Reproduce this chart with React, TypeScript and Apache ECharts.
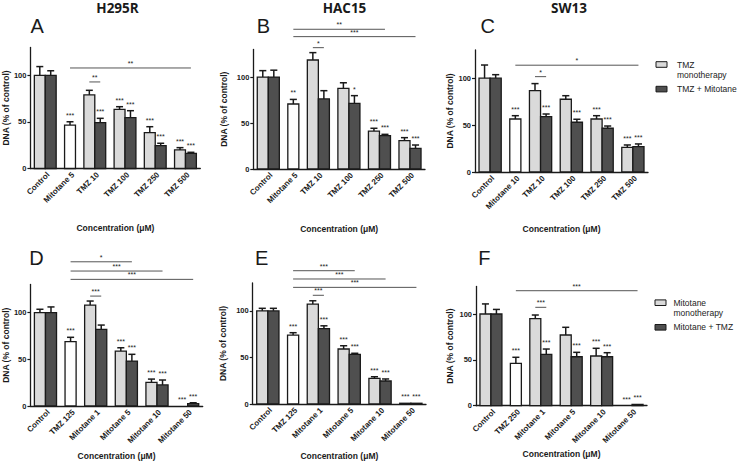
import { useEffect, useRef } from 'react';
import * as echarts from 'echarts';

// ---------- data ----------
const Y_TICKS = [0, 50, 100];
const Y_NAME = 'DNA (% of control)';
const X_NAME = 'Concentration (μM)';

// A — H295R
const catsA = ['Control', 'Mitotane 5', 'TMZ 10', 'TMZ 100', 'TMZ 250', 'TMZ 500'];
const monoA = [100, 46.7, 79, 63.6, 38.5, 20];
const monoErrA = [9.5, 3.5, 5, 2.8, 6.4, 2.4];
const monoStarsA = ['', '***', '', '***', '***', '***'];
const comboA = [100, null, 49.2, 54.6, 24.5, 16.3];
const comboErrA = [5, null, 4.7, 7.5, 2.6, 1.1];
const comboStarsA = ['', '', '***', '***', '***', '***'];
const bracketsA = [
  { from: [1, 0], to: [5, 1], level: 108, label: '**' },
  { from: [2, 0], to: [2, 1], level: 93, label: '**' },
];

// B — HAC15
const catsB = ['Control', 'Mitotane 5', 'TMZ 10', 'TMZ 100', 'TMZ 250', 'TMZ 500'];
const monoB = [100, 70.7, 118.6, 87.8, 41.3, 30.8];
const monoErrB = [7, 5, 8, 6, 3, 3.3];
const monoStarsB = ['', '**', '', '', '***', '***'];
const comboB = [100, null, 76.2, 71.5, 36.2, 22.5];
const comboErrB = [7.5, null, 9, 8.3, 1.5, 3.6];
const comboStarsB = ['', '', '', '*', '***', '***'];
const bracketsB = [
  { from: [1, 0], to: [4, 1], level: 152, label: '**' },
  { from: [1, 0], to: [5, 1], level: 144, label: '***' },
  { from: [2, 0], to: [2, 1], level: 132, label: '*' },
];

// C — SW13
const catsC = ['Control', 'Mitotane 10', 'TMZ 10', 'TMZ 100', 'TMZ 250', 'TMZ 500'];
const monoC = [100, 56.5, 86.7, 77.5, 56.5, 26.3];
const monoErrC = [14, 3.5, 7.5, 3.8, 3.5, 2.5];
const monoStarsC = ['', '***', '', '', '***', '***'];
const comboC = [100, null, 59, 53, 46.6, 27];
const comboErrC = [3.7, null, 2.8, 3.2, 2.4, 2.9];
const comboStarsC = ['', '', '***', '***', '***', '***'];
const bracketsC = [
  { from: [1, 0], to: [5, 1], level: 113.8, label: '*' },
  { from: [2, 0], to: [2, 1], level: 101.6, label: '*' },
];

// D — H295R
const catsD = ['Control', 'TMZ 125', 'Mitotane 1', 'Mitotane 5', 'Mitotane 10', 'Mitotane 50'];
const monoD = [100, 68.8, 108, 58.8, 25.3, 0];
const monoErrD = [3.5, 4.7, 4.3, 3.5, 3.5, 0];
const monoStarsD = ['', '***', '', '***', '***', '***'];
const comboD = [100, null, 82, 48.1, 22.5, 2.5];
const comboErrD = [6, null, 4.6, 7.2, 5.3, 1];
const comboStarsD = ['', '', '', '***', '***', '***'];
const bracketsD = [
  { from: [1, 0], to: [3, 1], level: 154.3, label: '*' },
  { from: [1, 0], to: [4, 1], level: 144.4, label: '***' },
  { from: [1, 0], to: [5, 1], level: 135.5, label: '***' },
  { from: [2, 0], to: [2, 1], level: 117.6, label: '***' },
];

// E — HAC15
const catsE = ['Control', 'TMZ 125', 'Mitotane 1', 'Mitotane 5', 'Mitotane 10', 'Mitotane 50'];
const monoE = [100, 74.1, 107.4, 59.1, 27.6, 0.8];
const monoErrE = [2.8, 2.5, 3.5, 3.5, 1.7, 0];
const monoStarsE = ['', '***', '', '***', '***', '***'];
const comboE = [100, null, 81, 53.4, 24.7, 0.8];
const comboErrE = [2.8, null, 3, 1.1, 2.2, 0];
const comboStarsE = ['', '', '***', '***', '***', '***'];
const bracketsE = [
  { from: [1, 0], to: [3, 1], level: 143.2, label: '***' },
  { from: [1, 0], to: [4, 1], level: 134.3, label: '***' },
  { from: [1, 0], to: [5, 1], level: 125.3, label: '***' },
  { from: [2, 0], to: [2, 1], level: 116.8, label: '***' },
];

// F — SW13
const catsF = ['Control', 'TMZ 250', 'Mitotane 1', 'Mitotane 5', 'Mitotane 10', 'Mitotane 50'];
const monoF = [100, 46.2, 94.9, 77.1, 54.2, 0];
const monoErrF = [11, 6.6, 4, 8.4, 8.4, 0];
const monoStarsF = ['', '***', '', '', '***', '***'];
const comboF = [100, null, 56, 53.4, 53.4, 1.5];
const comboErrF = [5, null, 5.8, 4.8, 4.4, 0];
const comboStarsF = ['', '', '***', '***', '***', '***'];
const bracketsF = [
  { from: [1, 0], to: [5, 1], level: 125.4, label: '***' },
  { from: [2, 0], to: [2, 1], level: 107.3, label: '***' },
];

// ---------- styling / layout ----------
const FONT = '"Liberation Sans", Arial, sans-serif';
const LIGHT = '#dadada';
const DARK = '#4f4f4f';
const WHITE = '#ffffff';
const INK = '#1a1a1a';
const PAD = 0.36;
const GAP = 0.77;
const CAP = 0.64;

type Panel = {
  title: string; letter: string;
  cats: string[]; mono: number[]; monoErr: number[]; monoStars: string[];
  combo: (number | null)[]; comboErr: (number | null)[]; comboStars: string[];
  brackets: { from: number[]; to: number[]; level: number; label: string }[];
  left: number; top: number; width: number; height: number;
  yGap: number; xGap: number; titleX: number; letterX: number; letterY: number;
};

const panels: Panel[] = [
  { title: 'H295R', letter: 'A', cats: catsA, mono: monoA, monoErr: monoErrA, monoStars: monoStarsA, combo: comboA, comboErr: comboErrA, comboStars: comboStarsA, brackets: bracketsA,
    left: 28.3, top: 47.5, width: 172, height: 121, yGap: 19, xGap: 55, titleX: 117.5, letterX: 30.5, letterY: 26.3 },
  { title: 'HAC15', letter: 'B', cats: catsB, mono: monoB, monoErr: monoErrB, monoStars: monoStarsB, combo: comboB, comboErr: comboErrB, comboStars: comboStarsB, brackets: bracketsB,
    left: 253.3, top: 49.5, width: 171.7, height: 119.5, yGap: 25, xGap: 55, titleX: 344.5, letterX: 256.7, letterY: 26.3 },
  { title: 'SW13', letter: 'C', cats: catsC, mono: monoC, monoErr: monoErrC, monoStars: monoStarsC, combo: comboC, comboErr: comboErrC, comboStars: comboStarsC, brackets: bracketsC,
    left: 475, top: 50, width: 173, height: 122, yGap: 21, xGap: 52, titleX: 569, letterX: 480.5, letterY: 26.3 },
  { title: '', letter: 'D', cats: catsD, mono: monoD, monoErr: monoErrD, monoStars: monoStarsD, combo: comboD, comboErr: comboErrD, comboStars: comboStarsD, brackets: bracketsD,
    left: 27.7, top: 284.5, width: 175, height: 121.5, yGap: 19, xGap: 45, titleX: 0, letterX: 29.3, letterY: 257.8 },
  { title: '', letter: 'E', cats: catsE, mono: monoE, monoErr: monoErrE, monoStars: monoStarsE, combo: comboE, comboErr: comboErrE, comboStars: comboStarsE, brackets: bracketsE,
    left: 252.7, top: 283, width: 173.3, height: 121, yGap: 25, xGap: 47, titleX: 0, letterX: 255, letterY: 257.8 },
  { title: '', letter: 'F', cats: catsF, mono: monoF, monoErr: monoErrF, monoStars: monoStarsF, combo: comboF, comboErr: comboErrF, comboStars: comboStarsF, brackets: bracketsF,
    left: 476, top: 286.5, width: 171, height: 119.2, yGap: 21.5, xGap: 44, titleX: 0, letterX: 478.3, letterY: 257.8 },
];

type Bar = { x: number; value: number; err: number; stars: string; color: string };

function layout(p: Panel) {
  let cursor = PAD;
  const bars: Bar[] = [];
  const centers: number[] = [];
  const pos: number[][] = [];
  p.mono.forEach((v, k) => {
    const c = p.combo[k];
    if (c != null) {
      bars.push({ x: cursor + 0.5, value: v, err: p.monoErr[k], stars: p.monoStars[k], color: LIGHT });
      bars.push({ x: cursor + 1.5, value: c, err: p.comboErr[k] ?? 0, stars: p.comboStars[k], color: DARK });
      pos.push([cursor + 0.5, cursor + 1.5]);
      centers.push(cursor + 1);
      cursor += 2 + GAP;
    } else {
      bars.push({ x: cursor + 0.5, value: v, err: p.monoErr[k], stars: p.monoStars[k], color: WHITE });
      pos.push([cursor + 0.5, cursor + 0.5]);
      centers.push(cursor + 0.5);
      cursor += 1 + GAP;
    }
  });
  return { bars, centers, pos, total: cursor - GAP + PAD };
}

function txt(text: string, x: number, y: number, size: number, weight: string, align: string, valign: string, family = FONT, fill = INK) {
  return {
    type: 'text', x, y, silent: true,
    style: { legacy: false, text, x: 0, y: 0, fontSize: size, fontWeight: weight, fontFamily: family, fill,
      align, verticalAlign: valign },
  };
}

function buildOption() {
  const grids: any[] = [];
  const xAxes: any[] = [];
  const yAxes: any[] = [];
  const series: any[] = [];
  const graphics: any[] = [];
  const axisLine = { show: true, onZero: false, lineStyle: { color: INK, width: 1.3 } };
  const nameStyle = { fontSize: 8.5, fontWeight: 'bold', fontFamily: FONT, color: INK };
  const ink = { color: INK };

  panels.forEach((p, i) => {
    const L = layout(p);
    grids.push({ left: p.left, top: p.top, width: p.width, height: p.height });
    xAxes.push({
      type: 'value', gridIndex: i, min: 0, max: L.total,
      axisLine, axisTick: { show: false }, axisLabel: { show: false }, splitLine: { show: false },
      name: X_NAME, nameLocation: 'middle', nameGap: p.xGap, nameTextStyle: nameStyle,
    });
    yAxes.push({
      type: 'value', gridIndex: i, min: 0, max: 130, interval: 50,
      axisLine, splitLine: { show: false },
      axisTick: { show: true, length: 3, customValues: Y_TICKS, lineStyle: { color: INK, width: 1.2 } },
      axisLabel: {
        show: true, hideOverlap: false, fontSize: 7.5, fontWeight: 'bold', fontFamily: FONT, color: INK, margin: 4,
        formatter: (v: number) => (Y_TICKS.includes(v) ? String(v) : ''),
      },
      name: Y_NAME, nameLocation: 'middle', nameGap: p.yGap, nameRotate: 90, nameTextStyle: nameStyle,
    });

    // bars + error bars + stars
    series.push({
      type: 'custom', xAxisIndex: i, yAxisIndex: i, clip: false, silent: true, itemStyle: ink,
      data: L.bars.map((b) => [b.x, b.value]),
      renderItem: (params: any, api: any) => {
        const b = L.bars[params.dataIndex];
        const [xl, yTop] = api.coord([b.x - 0.5, b.value]);
        const [xr, yBase] = api.coord([b.x + 0.5, 0]);
        const [cx, yErr] = api.coord([b.x, b.value + b.err]);
        const [capL] = api.coord([b.x - CAP / 2, 0]);
        const [capR] = api.coord([b.x + CAP / 2, 0]);
        const children: any[] = [];
        if (b.value > 0) {
          children.push({ type: 'rect', shape: { x: xl, y: yTop, width: xr - xl, height: yBase - yTop },
            style: { fill: b.color, stroke: INK, lineWidth: 1.3 } });
        }
        if (b.err > 0) {
          children.push({ type: 'line', shape: { x1: cx, y1: yTop, x2: cx, y2: yErr }, style: { stroke: INK, lineWidth: 1.5 } });
          children.push({ type: 'line', shape: { x1: capL, y1: yErr, x2: capR, y2: yErr }, style: { stroke: INK, lineWidth: 1.5 } });
        }
        if (b.stars) children.push(txt(b.stars, cx, yErr - 3, 7, 'normal', 'center', 'bottom'));
        return { type: 'group', children };
      },
    });

    // significance brackets
    series.push({
      type: 'custom', xAxisIndex: i, yAxisIndex: i, clip: false, silent: true, itemStyle: ink,
      data: p.brackets.map((br) => [L.pos[br.from[0]][br.from[1]], br.level]),
      renderItem: (params: any, api: any) => {
        const br = p.brackets[params.dataIndex];
        const a = api.coord([L.pos[br.from[0]][br.from[1]], br.level]);
        const b = api.coord([L.pos[br.to[0]][br.to[1]], br.level]);
        return { type: 'group', children: [
          { type: 'line', shape: { x1: a[0], y1: a[1], x2: b[0], y2: b[1] }, style: { stroke: '#555', lineWidth: 1 } },
          txt(br.label, (a[0] + b[0]) / 2, a[1] - 1, 7, 'normal', 'center', 'bottom'),
        ] };
      },
    });

    // rotated category labels
    series.push({
      type: 'custom', xAxisIndex: i, yAxisIndex: i, clip: false, silent: true, itemStyle: ink,
      data: L.centers.map((c) => [c, 0]),
      renderItem: (params: any, api: any) => {
        const [cx, cy] = api.coord([L.centers[params.dataIndex], 0]);
        const t: any = txt(p.cats[params.dataIndex], cx + 3, cy + 5, 8, 'bold', 'right', 'middle');
        t.rotation = Math.PI / 4;
        return t;
      },
    });

    if (p.title) graphics.push(txt(p.title, p.titleX, 7.5, 13.5, 'bold', 'center', 'middle', '"Open Sans", sans-serif'));
    graphics.push(txt(p.letter, p.letterX, p.letterY, 20, 'normal', 'left', 'middle'));
  });

  // legends
  const legend = (x: number, tx: number, y: number, lines: string[], second: string) => {
    graphics.push({ type: 'rect', shape: { x, y: y - 2.8, width: 11, height: 5.6 }, style: { fill: LIGHT, stroke: INK, lineWidth: 1 } });
    lines.forEach((l, k) => graphics.push(txt(l, tx, y + k * 10.4, 8.5, 'normal', 'left', 'middle', FONT, '#222')));
    graphics.push({ type: 'rect', shape: { x, y: y + 24.6 - 2.8, width: 11, height: 5.6 }, style: { fill: DARK, stroke: INK, lineWidth: 1 } });
    graphics.push(txt(second, tx, y + 24.6, 8.5, 'normal', 'left', 'middle', FONT, '#222'));
  };
  legend(656, 677, 64.5, ['TMZ', 'monotherapy'], 'TMZ + Mitotane');
  legend(655, 673.5, 302.7, ['Mitotane', 'monotherapy'], 'Mitotane + TMZ');

  return { animation: false, color: [INK], backgroundColor: '#ffffff', grid: grids, xAxis: xAxes, yAxis: yAxes, series, graphic: graphics };
}

export default function App() {
  const ref = useRef<HTMLDivElement>(null);
  useEffect(() => {
    document.body.style.margin = '0';
    const chart = echarts.init(ref.current!, null, { renderer: 'svg' });
    chart.setOption(buildOption() as any);
    return () => chart.dispose();
  }, []);
  return <div ref={ref} style={{ width: 739, height: 470, position: 'absolute', left: 0, top: 0 }} />;
}
